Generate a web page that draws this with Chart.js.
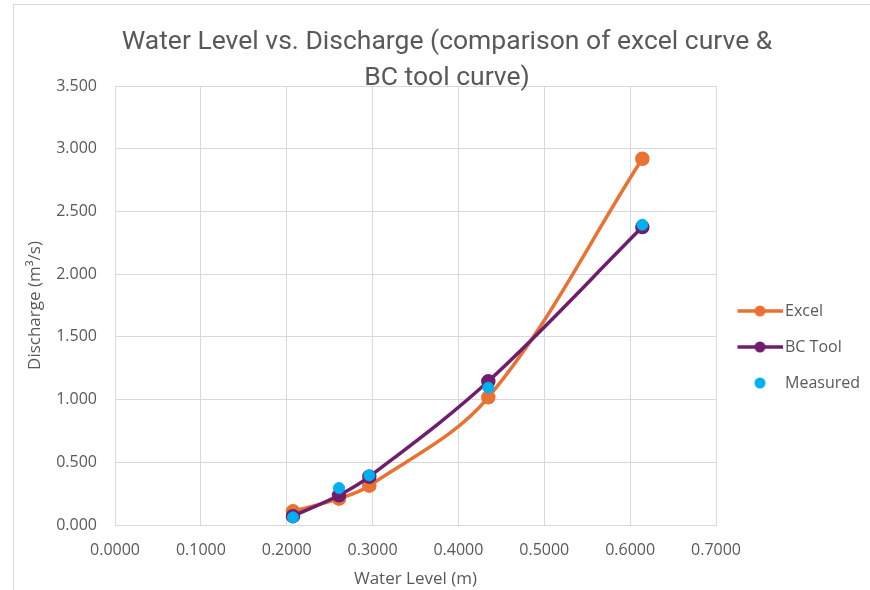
<!DOCTYPE html>
<html>
<head>
<meta charset="utf-8">
<script src="https://cdn.jsdelivr.net/npm/chart.js@4.4.1/dist/chart.umd.min.js"></script>
<style>
  html, body { margin: 0; padding: 0; background: #fff; }
  #wrap { position: relative; width: 870px; height: 590px; overflow: hidden; }
  #frame { position: absolute; left: 13px; top: 4px; width: 900px; height: 700px;
           border-left: 1px solid #d9d9d9; border-top: 1px solid #d9d9d9; }
  canvas { position: absolute; left: 0; top: 0; }
</style>
</head>
<body>
<div id="wrap">
  <div id="frame"></div>
  <canvas id="chart" width="870" height="590"></canvas>
</div>
<script>
// water level (m) at each gauging
const waterLevel = [0.2073, 0.2609, 0.2962, 0.4348, 0.6142];
// discharge (m3/s)
const excelQ    = [0.109, 0.210, 0.313, 1.018, 2.920];
const bcToolQ   = [0.070, 0.237, 0.385, 1.146, 2.375];
const measuredQ = [0.061, 0.295, 0.396, 1.095, 2.394];

const xTickLabels = ["0.0000", "0.1000", "0.2000", "0.3000", "0.4000", "0.5000", "0.6000", "0.7000"];
const yTickLabels = ["0.000", "0.500", "1.000", "1.500", "2.000", "2.500", "3.000", "3.500"];

const ORANGE = "#e97132";
const PURPLE = "#6f1d6f";
const CYAN = "#00b0f0";
const TEXT = "#595959";
const GRID = "#d9d9d9";

const toPoints = (ys) => ys.map((y, i) => ({ x: waterLevel[i], y: y }));

// small legend symbol: line with a dot, or just a dot
function legendSymbol(color, withLine) {
  const c = document.createElement("canvas");
  c.width = 52; c.height = 14;
  const g = c.getContext("2d");
  const cx = 29.5;
  if (withLine) {
    g.strokeStyle = color;
    g.lineWidth = 3.5;
    g.beginPath();
    g.moveTo(cx - 22.5, 7);
    g.lineTo(cx + 22.5, 7);
    g.stroke();
  }
  g.fillStyle = color;
  g.beginPath();
  g.arc(cx, 7, 5.5, 0, Math.PI * 2);
  g.fill();
  return c;
}

const ctx = document.getElementById("chart");
new Chart(ctx, {
  type: "scatter",
  data: {
    datasets: [
      {
        label: "Excel",
        data: toPoints(excelQ),
        showLine: true,
        borderColor: ORANGE,
        backgroundColor: ORANGE,
        borderWidth: 3.5,
        pointRadius: 5.5,
        pointHoverRadius: 5.5,
        tension: 0.35,
        order: 3,
      },
      {
        label: "BC Tool",
        data: toPoints(bcToolQ),
        showLine: true,
        borderColor: PURPLE,
        backgroundColor: PURPLE,
        borderWidth: 3.5,
        pointRadius: 5.5,
        pointHoverRadius: 5.5,
        tension: 0.35,
        order: 2,
      },
      {
        label: "Measured",
        data: toPoints(measuredQ),
        showLine: false,
        borderColor: CYAN,
        backgroundColor: CYAN,
        pointRadius: 5.5,
        pointHoverRadius: 5.5,
        order: 1,
      },
    ],
  },
  options: {
    responsive: false,
    animation: false,
    layout: { padding: { left: 24, right: 0, top: 2, bottom: -2 } },
    plugins: {
      tooltip: { enabled: false },
      title: {
        display: true,
        text: ["Water Level vs. Discharge (comparison of excel curve &", "BC tool curve)"],
        color: TEXT,
        font: { family: "'Roboto', sans-serif", size: 26.5, weight: "normal", lineHeight: 36 / 26.5 },
        padding: { top: 22, bottom: -10 },
      },
      legend: {
        position: "right",
        maxWidth: 154,
        title: { display: true, text: " ", font: { size: 10 }, padding: { top: 0, bottom: 88 } },
        labels: {
          usePointStyle: true,
          pointStyleWidth: 41,
          padding: 20,
          color: TEXT,
          font: { family: "'Open Sans', sans-serif", size: 16 },
          generateLabels: (chart) =>
            chart.data.datasets.map((ds, i) => ({
              text: ds.label,
              fontColor: TEXT,
              pointStyle: legendSymbol(ds.borderColor, ds.showLine),
              datasetIndex: i,
              lineWidth: 0,
              hidden: false,
            })),
        },
      },
    },
    scales: {
      x: {
        type: "linear",
        min: 0,
        max: 0.7,
        afterFit: (s) => { s.height = 67; },
        ticks: {
          stepSize: 0.1,
          padding: 16,
          color: TEXT,
          font: { family: "'Open Sans', sans-serif", size: 16 },
          callback: (v, i) => xTickLabels[i],
        },
        grid: { color: GRID, drawTicks: false },
        border: { color: GRID },
        title: {
          display: true,
          text: "Water Level (m)",
          color: TEXT,
          font: { family: "'Open Sans', sans-serif", size: 17 },
          padding: { top: 0, bottom: 3 },
        },
      },
      y: {
        type: "linear",
        min: 0,
        max: 3.5,
        afterFit: (s) => { s.width = 91; },
        ticks: {
          stepSize: 0.5,
          padding: 18,
          color: TEXT,
          font: { family: "'Open Sans', sans-serif", size: 16 },
          callback: (v, i) => yTickLabels[i],
        },
        grid: { color: GRID, drawTicks: false },
        border: { color: GRID },
        title: {
          display: true,
          text: "Discharge (m³/s)",
          color: TEXT,
          font: { family: "'Open Sans', sans-serif", size: 17 },
          padding: { top: 1, bottom: 0 },
        },
      },
    },
  },
});
</script>
</body>
</html>
